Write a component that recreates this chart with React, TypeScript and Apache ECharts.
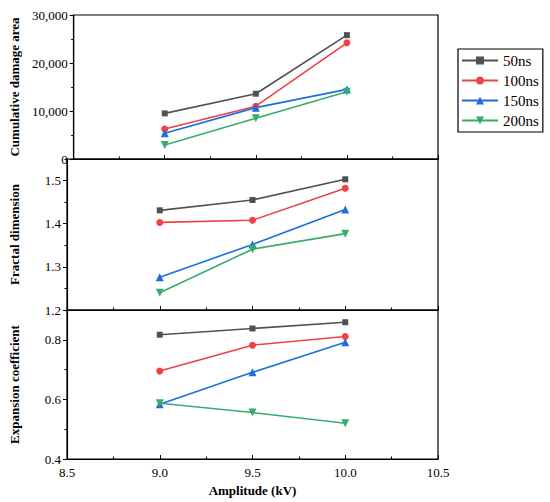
import React, { useEffect, useRef } from 'react';
import * as echarts from 'echarts';

const amplitudes = [9.0, 9.5, 10.0];
const pulseWidths = ['50ns', '100ns', '150ns', '200ns'];
const colors = ['#515151', '#F14040', '#1A6FDF', '#37AD6B'];
const symbols = ['rect', 'circle', 'triangle', 'triangle'];
const symbolRotations = [0, 0, 0, 180];

// rows: 50ns, 100ns, 150ns, 200ns; columns: 9.0, 9.5, 10.0 kV
const damageArea = [
  [9500, 13600, 25800],
  [6250, 11000, 24200],
  [5350, 10700, 14500],
  [2900, 8500, 14000],
];
const fractalDimension = [
  [1.431, 1.455, 1.503],
  [1.403, 1.408, 1.482],
  [1.276, 1.352, 1.433],
  [1.24, 1.341, 1.377],
];
const expansionCoefficient = [
  [0.817, 0.838, 0.859],
  [0.695, 0.782, 0.811],
  [0.584, 0.691, 0.792],
  [0.587, 0.556, 0.52],
];

const panelTitles = ['Cumulative damage area', 'Fractal dimension', 'Expansion coefficient'];
const panelMin = [0, 1.2, 0.4];
const panelMax = [30000, 1.55, 0.9];
const panelInterval = [10000, 0.1, 0.2];
const xMin = 8.5;
const xMax = 10.5;
const xInterval = 0.5;

const FONT = 'Liberation Serif';

export default function App() {
  const ref = useRef<HTMLDivElement>(null);

  useEffect(() => {
    document.body.style.margin = '0';
    if (!ref.current) return;
    const chart = echarts.init(ref.current, undefined, { renderer: 'svg' });
    const panels = [damageArea, fractalDimension, expansionCoefficient];
    const gridLayout = [
      { top: 15, height: 144 },
      { top: 159, height: 151 },
      { top: 310, height: 149 },
    ];
    const axisColor = '#000';
    const grid = gridLayout.map((g) => ({
      left: 63,
      width: 375,
      top: g.top,
      height: g.height,
      show: true,
      borderColor: axisColor,
      borderWidth: 1.2,
      backgroundColor: 'transparent',
    }));

    const xAxis = gridLayout.map((_, i) => {
      const last = i === gridLayout.length - 1;
      return {
        type: 'value',
        gridIndex: i,
        position: 'bottom',
        min: xMin,
        max: xMax,
        interval: xInterval,
        axisLine: { show: true, lineStyle: { color: axisColor, width: 1.2 } },
        axisTick: { show: true, inside: true, length: 4, lineStyle: { color: axisColor, width: 1 } },
        minorTick: { show: true, splitNumber: 2, length: 2.5, lineStyle: { color: axisColor, width: 1 } },
        splitLine: { show: false },
        axisLabel: {
          show: last,
          fontFamily: FONT,
          fontSize: 13,
          color: '#000',
          margin: 7,
          formatter: (v: number) => v.toFixed(1),
        },
        name: last ? 'Amplitude (kV)' : '',
        nameLocation: 'middle',
        nameGap: 25,
        nameTextStyle: { fontFamily: FONT, fontSize: 13, fontWeight: 'bold', color: '#000' },
      };
    });

    const yAxis: any[] = [];
    gridLayout.forEach((_, i) => {
      yAxis.push({
        type: 'value',
        gridIndex: i,
        position: 'left',
        min: panelMin[i],
        max: panelMax[i],
        interval: panelInterval[i],
        axisLine: { show: true, lineStyle: { color: axisColor, width: 1.2 } },
        axisTick: { show: true, inside: false, length: 4, lineStyle: { color: axisColor, width: 1 } },
        splitLine: { show: false },
        axisLabel: {
          fontFamily: FONT,
          fontSize: 13,
          color: '#000',
          margin: 6,
          showMaxLabel: i === 0,
          formatter: (v: number) =>
            i === 0 ? v.toLocaleString('en-US') : v.toFixed(1),
        },
        name: panelTitles[i],
        nameLocation: 'middle',
        nameGap: i === 0 ? 47 : 46,
        nameTextStyle: { fontFamily: FONT, fontSize: 13, fontWeight: 'bold', color: '#000' },
      });
      yAxis.push({
        type: 'value',
        gridIndex: i,
        position: 'left',
        offset: 0,
        min: panelMin[i],
        max: panelMax[i],
        interval: panelInterval[i] / 2,
        axisLine: { show: false },
        axisTick: { show: true, inside: false, length: 2.5, lineStyle: { color: axisColor, width: 1 } },
        splitLine: { show: false },
        axisLabel: { show: false },
      });
    });

    const series: any[] = [];
    panels.forEach((panel, p) => {
      panel.forEach((vals, s) => {
        series.push({
          type: 'line',
          name: pulseWidths[s],
          xAxisIndex: p,
          yAxisIndex: p * 2,
          data: amplitudes.map((a, k) => [a, vals[k]]),
          symbol: symbols[s],
          symbolRotate: symbolRotations[s],
          symbolSize: s === 0 ? 6 : s === 1 ? 7 : 8,
          itemStyle: { color: colors[s] },
          lineStyle: { color: colors[s], width: 1.6 },
        });
      });
    });

    chart.setOption({
      animation: false,
      backgroundColor: '#fff',
      grid,
      xAxis,
      yAxis,
      legend: {
        data: pulseWidths,
        orient: 'vertical',
        left: 458,
        top: 49,
        itemWidth: 36,
        itemHeight: 10,
        itemGap: 5,
        padding: [4, 4, 4, 3],
        borderColor: '#000',
        borderWidth: 1.2,
        textStyle: { fontFamily: FONT, fontSize: 15, color: '#000', lineHeight: 15 },
      },
      series,
    });
    return () => chart.dispose();
  }, []);

  return <div ref={ref} style={{ width: 550, height: 502 }} />;
}
